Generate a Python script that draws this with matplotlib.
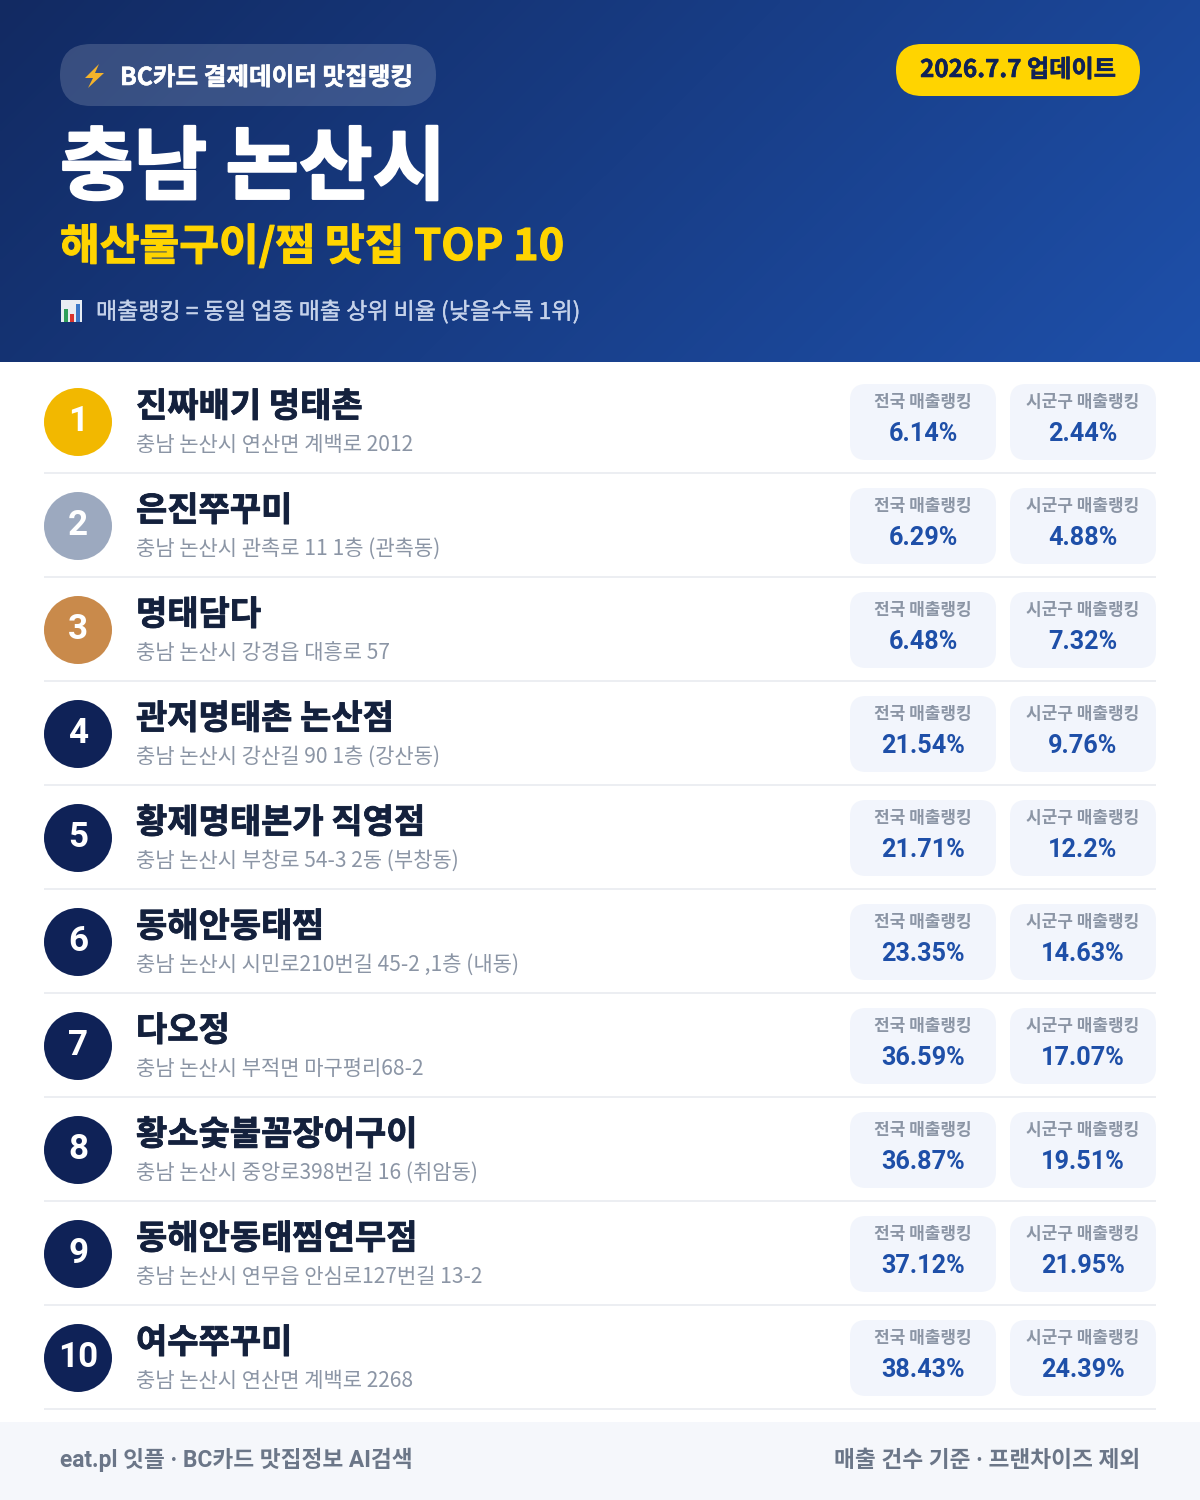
import numpy as np
import matplotlib
matplotlib.use("Agg")
import matplotlib.pyplot as plt
import matplotlib.patheffects as pe
from matplotlib.patches import FancyBboxPatch, Circle, Rectangle, Polygon

plt.rcParams['font.family'] = ['Noto Sans CJK KR', 'DejaVu Sans']
LATIN_FIRST = ['Roboto', 'Noto Sans CJK KR', 'DejaVu Sans']

# ===== data =====
names = ["진짜배기 명태촌", "은진쭈꾸미", "명태담다", "관저명태촌 논산점", "황제명태본가 직영점",
         "동해안동태찜", "다오정", "황소숯불꼼장어구이", "동해안동태찜연무점", "여수쭈꾸미"]
addresses = ["충남 논산시 연산면 계백로 2012", "충남 논산시 관촉로 11 1층 (관촉동)",
             "충남 논산시 강경읍 대흥로 57", "충남 논산시 강산길 90 1층 (강산동)",
             "충남 논산시 부창로 54-3 2동 (부창동)", "충남 논산시 시민로210번길 45-2 ,1층 (내동)",
             "충남 논산시 부적면 마구평리68-2", "충남 논산시 중앙로398번길 16 (취암동)",
             "충남 논산시 연무읍 안심로127번길 13-2", "충남 논산시 연산면 계백로 2268"]
national = [6.14, 6.29, 6.48, 21.54, 21.71, 23.35, 36.59, 36.87, 37.12, 38.43]
local = ["2.44", "4.88", "7.32", "9.76", "12.2", "14.63", "17.07", "19.51", "21.95", "24.39"]
badge_colors = ["#f2b800", "#9ca9bf", "#c98a4b"] + ["#0f2257"] * 7

# ===== figure =====
fig = plt.figure(figsize=(12, 15), dpi=100)
ax = fig.add_axes([0, 0, 1, 1])
ax.set_xlim(0, 1200)
ax.set_ylim(1500, 0)
ax.axis("off")


def px(size):
    return size * 0.72


def rounded(x0, y0, x1, y1, r, color, alpha=1.0, z=2):
    ax.add_patch(FancyBboxPatch((x0 + r, y0 + r), x1 - x0 - 2 * r, y1 - y0 - 2 * r,
                                boxstyle=f"round,pad={r},rounding_size={r}",
                                fc=color, ec="none", alpha=alpha, zorder=z))


def heavy(txt, width):
    # only Bold is available, so thicken it with a stroke of the same colour
    txt.set_path_effects([pe.withStroke(linewidth=width, foreground=txt.get_color())])
    return txt


# header gradient
xx, yy = np.meshgrid(np.linspace(0, 1, 300), np.linspace(0, 1, 90))
t = (xx * 1200 + yy * 362) / (1200 + 362)
start = np.array([0x12, 0x2a, 0x62]) / 255
end = np.array([0x1e, 0x50, 0xaa]) / 255
grad = start[None, None, :] + t[:, :, None] * (end - start)[None, None, :]
ax.imshow(grad, extent=(0, 1200, 362, 0), aspect="auto", zorder=1, interpolation="bilinear")
ax.set_xlim(0, 1200)
ax.set_ylim(1500, 0)

# top pills
rounded(60, 44, 436, 106, 31, "#ffffff", alpha=0.16)
ax.add_patch(Polygon([(99, 64), (85, 78), (93, 78), (88, 88), (104, 73), (95, 73)],
                     fc="#f5b32a", ec="none", zorder=3))
heavy(ax.text(120, 85, "BC카드 결제데이터 맛집랭킹", color="white", fontsize=px(24.6), fontweight="bold",
              ha="left", va="baseline", zorder=3), 0.4)
rounded(896, 44, 1140, 96, 26, "#ffd400")
heavy(ax.text(1018, 77, "2026.7.7 업데이트", color="#0f2257", fontsize=px(24.2), fontweight="bold",
              ha="center", va="baseline", zorder=3), 0.4)

# titles
heavy(ax.text(60, 193, "충남 논산시", color="white", fontsize=px(80), fontweight="bold",
              ha="left", va="baseline", zorder=3), 1.6)
heavy(ax.text(60, 260, "해산물구이/찜 맛집 TOP 10", color="#ffd400", fontsize=px(43.2), fontweight="bold",
              ha="left", va="baseline", zorder=3), 0.8)

# bar chart icon
ax.add_patch(Rectangle((61, 300), 21, 22, fc="#e8edf3", ec="none", zorder=3))
ax.add_patch(Rectangle((64, 309), 4, 13, fc="#2f9e5a", ec="none", zorder=4))
ax.add_patch(Rectangle((70, 314), 4, 8, fc="#d8352f", ec="none", zorder=4))
ax.add_patch(Rectangle((76, 304), 4, 18, fc="#3a78c8", ec="none", zorder=4))
heavy(ax.text(96, 319, "매출랭킹 = 동일 업종 매출 상위 비율 (낮을수록 1위)", color="#c5d2ea", fontsize=px(23),
              ha="left", va="baseline", zorder=3), 0.25)

# rows
for i in range(len(names)):
    y = 104 * i
    ax.add_patch(Circle((78, 422 + y), 34, fc=badge_colors[i], ec="none", zorder=2))
    ax.text(78, 431 + y, str(i + 1), color="white", fontsize=px(35), fontweight="bold",
            family=LATIN_FIRST, ha="center", va="baseline", zorder=3)
    heavy(ax.text(136, 417 + y, names[i], color="#14213d", fontsize=px(34), fontweight="bold",
                  ha="left", va="baseline", zorder=3), 0.6)
    ax.text(136, 451 + y, addresses[i], color="#8b95a5", fontsize=px(21),
            ha="left", va="baseline", zorder=3)

    rounded(850, 384 + y, 996, 460 + y, 16, "#f2f5fc")
    rounded(1010, 384 + y, 1156, 460 + y, 16, "#f2f5fc")
    ax.text(923, 407 + y, "전국 매출랭킹", color="#8b95a5", fontsize=px(17), fontweight="bold",
            ha="center", va="baseline", zorder=3)
    ax.text(1083, 407 + y, "시군구 매출랭킹", color="#8b95a5", fontsize=px(17), fontweight="bold",
            ha="center", va="baseline", zorder=3)
    ax.text(923, 441 + y, f"{national[i]:.2f}%", color="#1e4fa8", fontsize=px(25.2), fontweight="bold",
            family=LATIN_FIRST, ha="center", va="baseline", zorder=3)
    ax.text(1083, 441 + y, f"{local[i]}%", color="#1e4fa8", fontsize=px(25.2), fontweight="bold",
            family=LATIN_FIRST, ha="center", va="baseline", zorder=3)

    ax.add_patch(Rectangle((44, 472 + y), 1112, 2, fc="#eceef2", ec="none", zorder=2))

# footer
ax.add_patch(Rectangle((0, 1422), 1200, 78, fc="#f5f7fb", ec="none", zorder=1))
ax.text(60, 1467, "eat.pl 잇플 · BC카드 맛집정보 AI검색", color="#6b7688", fontsize=px(22.7), fontweight="bold",
        family=LATIN_FIRST, ha="left", va="baseline", zorder=3)
ax.text(1140, 1467, "매출 건수 기준 · 프랜차이즈 제외", color="#6b7688", fontsize=px(22.7), fontweight="bold",
        family=LATIN_FIRST, ha="right", va="baseline", zorder=3)

fig.savefig("out.png", dpi=100, facecolor="white")
